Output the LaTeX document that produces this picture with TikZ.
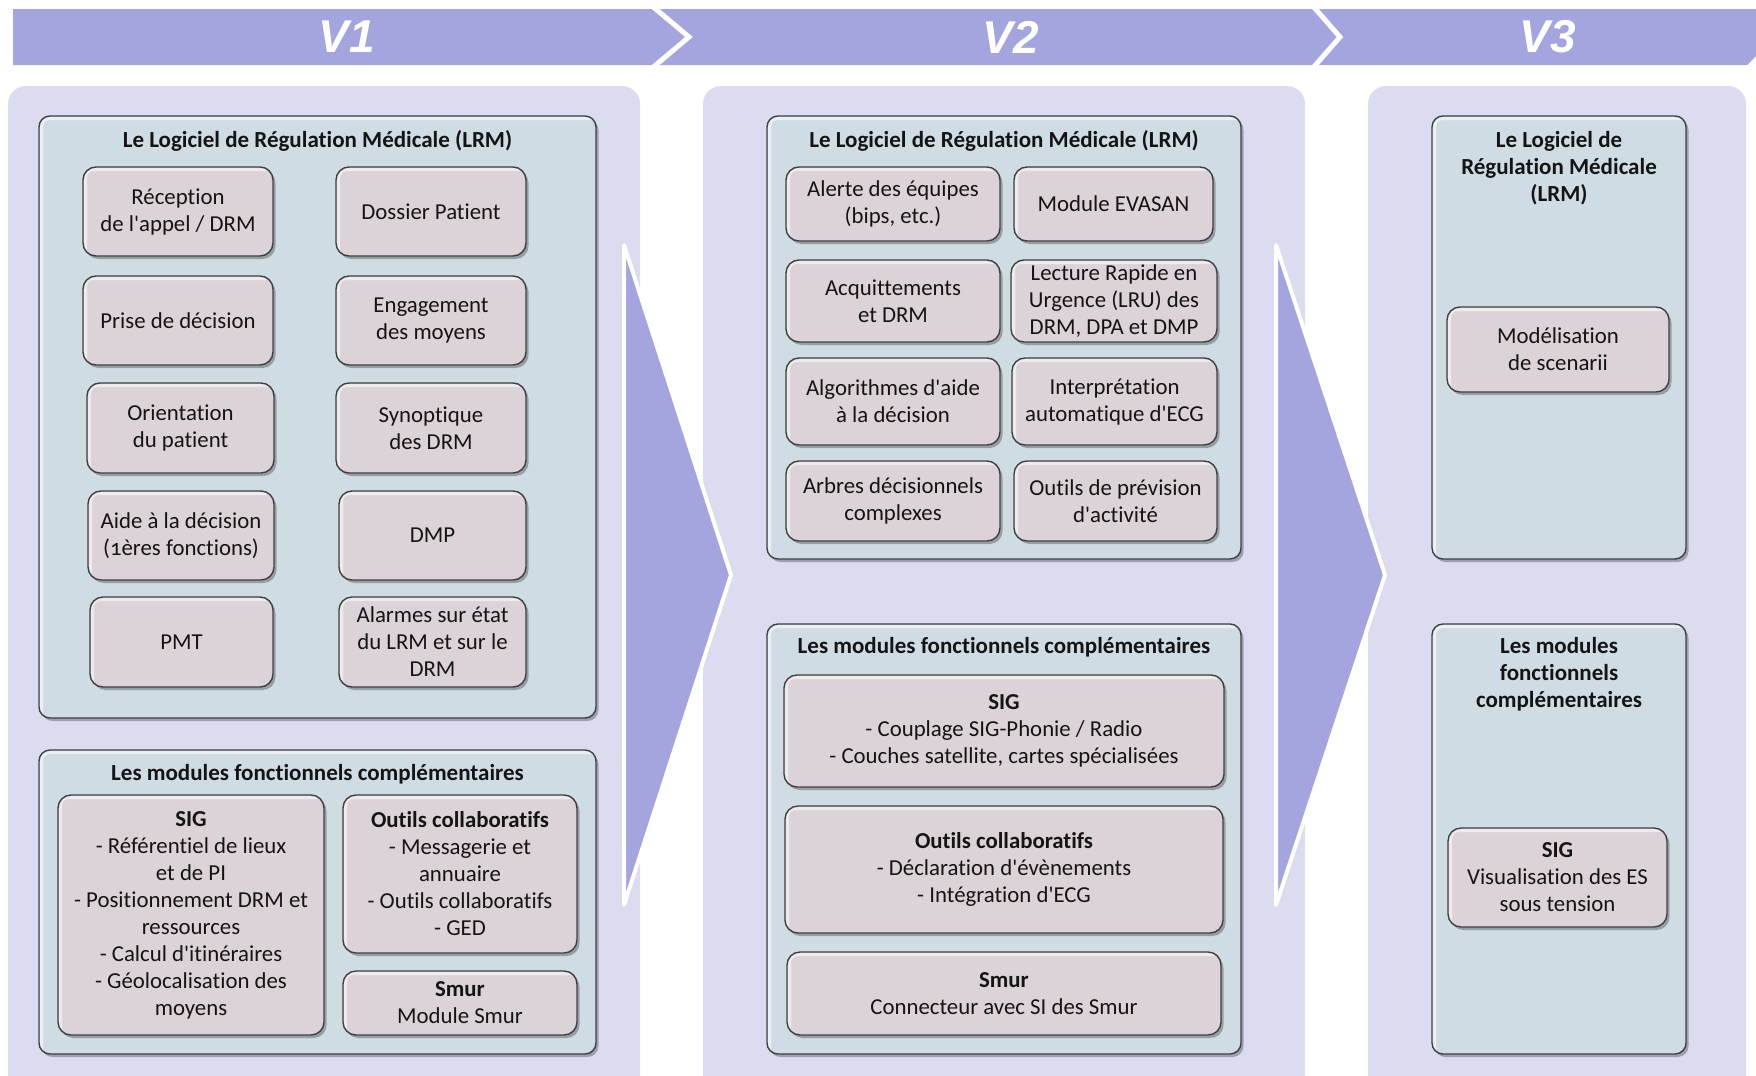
\documentclass[tikz,border=0pt]{standalone}
\usepackage{fontspec}
\setmainfont{Carlito}[Ligatures={NoCommon}]
\newfontfamily\bannerfont{Liberation Sans}
\usetikzlibrary{shadows}

% straight apostrophe
\newcommand\ap{\textquotesingle}

\definecolor{band}{HTML}{A4A4DF}
\definecolor{colbgc}{HTML}{DCDCF1}
\definecolor{panelc}{HTML}{D0DCE4}
\definecolor{subc}{HTML}{DBD3D8}
\definecolor{edgec}{HTML}{404040}
\definecolor{ink}{HTML}{141414}

\tikzset{
  colbg/.style={fill=colbgc, draw=none, rounded corners=18pt},
  bigarrow/.style={fill=band, draw=white, line width=4pt, line join=round},
  chev/.style={draw=white, line width=5pt, line join=miter},
  vlabel/.style={text=white, font=\bannerfont\fontsize{46}{50}\selectfont\bfseries\itshape},
  bevel/.style={path picture={
      \draw[white, opacity=0.55, line width=3pt, rounded corners=8pt]
        ([xshift=2.5pt]path picture bounding box.south west)
        |- ([yshift=-2.5pt]path picture bounding box.north east);}},
  boxbase/.style={draw=edgec, line width=1.4pt, bevel, inner sep=0pt,
      drop shadow={shadow xshift=2.5pt, shadow yshift=-3pt, opacity=0.28, fill=black}},
  panel/.style={boxbase, fill=panelc, rounded corners=11pt},
  sub/.style={boxbase, fill=subc, rounded corners=13pt, text=ink, align=center,
      font=\fontsize{22.8}{27}\selectfont},
  ptitle/.style={text=ink, align=center, font=\fontsize{23}{27}\selectfont\bfseries},
}

\begin{document}
\begin{tikzpicture}[x=1pt, y=-1pt]
\useasboundingbox (0,0) rectangle (1756,1076);
\begin{scope}
\clip (0,0) rectangle (1756,1076);

% version band across the top
\path[fill=band] (13,9) -- (1765,9) -- (1765,47) -- (1747,65) -- (13,65) -- cycle;
\coordinate (c1a) at (651,5);  \coordinate (c1b) at (689,37);  \coordinate (c1c) at (651,69);
\coordinate (c2a) at (1312,5); \coordinate (c2b) at (1340,37); \coordinate (c2c) at (1312,69);
\draw[chev] (c1a) -- (c1b) -- (c1c);
\draw[chev] (c2a) -- (c2b) -- (c2c);
\node[vlabel] (v1) at (347,37) {V1};
\node[vlabel] (v2) at (1011,37) {V2};
\node[vlabel] (v3) at (1548,37) {V3};

% column backgrounds
\path[colbg] (8,86) rectangle (640,1100);
\path[colbg] (703,86) rectangle (1305,1100);
\path[colbg] (1368,86) rectangle (1746,1100);

% transition arrows
\coordinate (a1t) at (624,245); \coordinate (a1p) at (731,575); \coordinate (a1b) at (624,905);
\coordinate (a2t) at (1276,245); \coordinate (a2p) at (1385,575); \coordinate (a2b) at (1276,905);
\draw[bigarrow] (a1t) -- (a1p) -- (a1b) -- cycle;
\draw[bigarrow] (a2t) -- (a2p) -- (a2b) -- cycle;
\end{scope}

% ---------------- V1 ----------------
\node[panel, minimum width=557, minimum height=602] (lrm1) at (317.5,417) {};
\node[ptitle] (lrm1t) at (317.5,141) {Le Logiciel de Régulation Médicale (LRM)};

\node[sub, minimum width=190, minimum height=89] (rec) at (178,211.5) {Réception\\de l\ap appel / DRM};
\node[sub, minimum width=190, minimum height=89] (pri) at (178,320.5) {Prise de décision};
\node[sub, minimum width=187, minimum height=90] (ori) at (180.5,428) {Orientation\\du patient};
\node[sub, minimum width=186, minimum height=89] (aid) at (181,535.5) {Aide à la décision\\({\addfontfeature{Numbers=OldStyle}1}ères fonctions)};
\node[sub, minimum width=183, minimum height=90] (pmt) at (181.5,642) {PMT};

\node[sub, minimum width=190, minimum height=89] (dos) at (431,211.5) {Dossier Patient};
\node[sub, minimum width=190, minimum height=89] (eng) at (431,320.5) {Engagement\\des moyens};
\node[sub, minimum width=190, minimum height=90] (syn) at (431,428) {Synoptique\\des DRM};
\node[sub, minimum width=187, minimum height=89] (dmp) at (432.5,535.5) {DMP};
\node[sub, minimum width=187, minimum height=90] (ala) at (432.5,642) {Alarmes sur état\\du LRM et sur le\\DRM};

\node[panel, minimum width=557, minimum height=304] (mod1) at (317.5,902) {};
\node[ptitle] (mod1t) at (317.5,774) {Les modules fonctionnels complémentaires};

\node[sub, minimum width=266, minimum height=240] (sig1) at (191,915)
  {{\bfseries SIG}\\- Référentiel de lieux\\et de PI\\- Positionnement DRM et\\ressources\\- Calcul d\ap itinéraires\\- Géolocalisation des\\moyens};
\node[sub, minimum width=234, minimum height=158] (col1) at (460,874)
  {{\bfseries Outils collaboratifs}\\- Messagerie et\\annuaire\\- Outils collaboratifs\\- GED};
\node[sub, minimum width=234, minimum height=64] (smu1) at (460,1003)
  {{\bfseries Smur}\\Module Smur};

% ---------------- V2 ----------------
\node[panel, minimum width=474, minimum height=443] (lrm2) at (1004,337.5) {};
\node[ptitle] (lrm2t) at (1004,141) {Le Logiciel de Régulation Médicale (LRM)};

\node[sub, minimum width=214, minimum height=74] (ale) at (893,204) {Alerte des équipes\\(bips, etc.)};
\node[sub, minimum width=199, minimum height=74] (eva) at (1113.5,204) {Module EVASAN};
\node[sub, minimum width=214, minimum height=82] (acq) at (893,301) {Acquittements\\et DRM};
\node[sub, minimum width=206, minimum height=82] (lru) at (1114,301) {Lecture Rapide en\\Urgence (LRU) des\\DRM, DPA et DMP};
\node[sub, minimum width=214, minimum height=87] (alg) at (893,401.5) {Algorithmes d\ap aide\\à la décision};
\node[sub, minimum width=205, minimum height=87] (ecg) at (1114.5,401.5) {Interprétation\\automatique d\ap ECG};
\node[sub, minimum width=214, minimum height=80] (arb) at (893,501) {Arbres décisionnels\\complexes};
\node[sub, minimum width=203, minimum height=80] (prev) at (1115.5,501) {Outils de prévision\\d\ap activité};

\node[panel, minimum width=474, minimum height=430] (mod2) at (1004,839) {};
\node[ptitle] (mod2t) at (1004,647) {Les modules fonctionnels complémentaires};

\node[sub, minimum width=440, minimum height=112] (sig2) at (1004,731)
  {{\bfseries SIG}\\- Couplage SIG-Phonie / Radio\\- Couches satellite, cartes spécialisées};
\node[sub, minimum width=438, minimum height=127] (col2) at (1004,869.5)
  {{\bfseries Outils collaboratifs}\\- Déclaration d\ap évènements\\- Intégration d\ap ECG};
\node[sub, minimum width=434, minimum height=83] (smu2) at (1004,993.5)
  {{\bfseries Smur}\\Connecteur avec SI des Smur};

% ---------------- V3 ----------------
\node[panel, minimum width=254, minimum height=443] (lrm3) at (1559,337.5) {};
\node[ptitle] (lrm3t) at (1559,168) {Le Logiciel de\\Régulation Médicale\\(LRM)};
\node[sub, minimum width=222, minimum height=85] (sce) at (1558,349.5) {Modélisation\\de scenarii};

\node[panel, minimum width=254, minimum height=430] (mod3) at (1559,839) {};
\node[ptitle] (mod3t) at (1559,674) {Les modules\\fonctionnels\\complémentaires};
\node[sub, minimum width=219, minimum height=99] (sig3) at (1557.5,877.5)
  {{\bfseries SIG}\\Visualisation des ES\\sous tension};
\end{tikzpicture}
\end{document}
